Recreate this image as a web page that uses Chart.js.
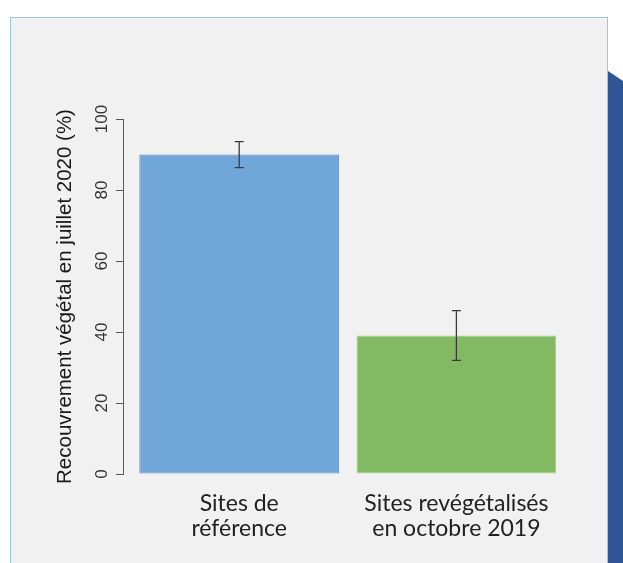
<!DOCTYPE html>
<html><head><meta charset="utf-8">
<script src="https://cdn.jsdelivr.net/npm/chart.js@4/dist/chart.umd.min.js"></script>
<style>
html,body{margin:0;padding:0;background:#fff;width:623px;height:563px;overflow:hidden;position:relative}
#panel{position:absolute;left:10px;top:17px;width:596px;height:600px;background:#f1f1f1;border:1px solid #9dc3e6;}
#deco{position:absolute;left:608px;top:71px;width:15px;height:492px;background:#2f5597;clip-path:polygon(0 0,100% 10px,100% 100%,0 100%);}
#c{position:absolute;left:0;top:0;}
</style></head><body>
<div id="panel"></div><div id="deco"></div>
<canvas id="c" width="623" height="563"></canvas>
<script>
const categories = [['Sites de', 'référence'], ['Sites revégétalisés', 'en octobre 2019']];
const positions = [1, 2];
const coverage = [90, 39];
const lowerBound = [86.3, 32];
const upperBound = [93.6, 46];
const yTicks = [0, 20, 40, 60, 80, 100];
const yTitle = 'Recouvrement végétal en juillet 2020 (%)';

const errorBars = {
  id: 'errorBars',
  afterDatasetsDraw(chart) {
    const {ctx, scales: {x, y}} = chart;
    ctx.save();
    ctx.strokeStyle = '#3a3a3a';
    ctx.lineWidth = 1.3;
    positions.forEach((p, i) => {
      const px = x.getPixelForValue(p);
      const top = y.getPixelForValue(upperBound[i]);
      const bot = y.getPixelForValue(lowerBound[i]);
      ctx.beginPath();
      ctx.moveTo(px, top); ctx.lineTo(px, bot);
      ctx.moveTo(px - 4.5, top); ctx.lineTo(px + 4.5, top);
      ctx.moveTo(px - 4.5, bot); ctx.lineTo(px + 4.5, bot);
      ctx.stroke();
    });
    ctx.restore();
  }
};

new Chart(document.getElementById('c'), {
  type: 'bar',
  data: {
    datasets: [{
      data: positions.map((p, i) => ({x: p, y: coverage[i]})),
      backgroundColor: ['#71a6d9', '#83b963'],
      borderColor: ['#5d90c4', '#a6d77e'],
      borderWidth: 1,
      borderSkipped: false,
      categoryPercentage: 1,
      barPercentage: 0.92
    }]
  },
  options: {
    responsive: false,
    animation: false,
    devicePixelRatio: 1,
    layout: {padding: {left: 40, right: 58, top: 119, bottom: 0}},
    plugins: {legend: {display: false}, tooltip: {enabled: false}},
    scales: {
      x: {
        type: 'linear', min: 0.465, max: 2.5, offset: false,
        afterBuildTicks: s => { s.ticks = positions.map(v => ({value: v})); },
        afterFit: s => { s.height = 89; },
        grid: {display: false, drawTicks: false},
        border: {display: false},
        ticks: {
          autoSkip: false, maxRotation: 0, minRotation: 0, padding: 17,
          callback: v => categories[positions.indexOf(v)],
          font: {family: 'Lato', size: 23, lineHeight: '25px'},
          color: '#222'
        }
      },
      y: {
        min: 0, max: 100,
        afterBuildTicks: s => { s.ticks = yTicks.map(v => ({value: v})); },
        afterFit: s => { s.width = 83; },
        grid: {drawOnChartArea: false, tickLength: 7, tickColor: '#5a5a5a', tickWidth: 1},
        border: {display: true, color: '#5a5a5a', width: 1},
        ticks: {
          minRotation: 90, maxRotation: 90, crossAlign: 'center', padding: 0,
          font: {family: 'Liberation Sans', size: 17},
          color: '#333'
        },
        title: {
          display: true, text: yTitle,
          font: {family: 'Liberation Sans', size: 20.5},
          color: '#1a1a1a', padding: {top: 13, bottom: 0}
        }
      }
    }
  },
  plugins: [errorBars]
});
</script>
</body></html>
